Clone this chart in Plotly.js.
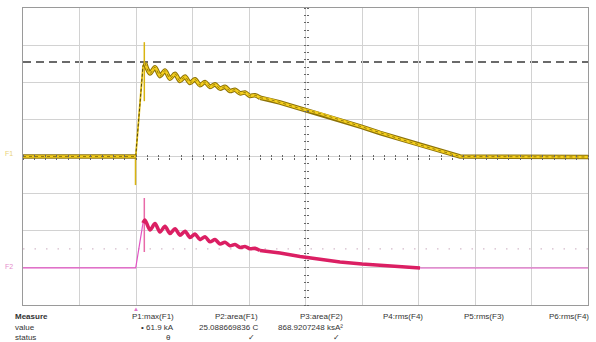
<!DOCTYPE html>
<html>
<head>
<meta charset="utf-8">
<script src="https://cdn.plot.ly/plotly-3.0.1.min.js"></script>
<style>html,body{margin:0;padding:0;background:#fff;}#chart{width:596px;height:342px;}</style>
</head>
<body>
<div id="chart"></div>
<script>
// Time axis in divisions (0..10), amplitude in divisions (-4..4)
const yelX = [0, 1.995, 2.124, 2.159,
  2.248, 2.336, 2.425, 2.513, 2.602, 2.690, 2.779, 2.867, 2.956, 3.044, 3.133, 3.221,
  3.310, 3.398, 3.487, 3.575, 3.664, 3.752, 3.841, 3.929, 4.018, 4.106, 4.195,
  4.372, 4.549, 4.726, 4.903, 5.257, 5.611, 6.0, 6.319, 6.673, 7.027, 7.381, 7.593, 7.735, 10];
const yelY = [0, 0, 2.44, 2.52,
  2.236, 2.405, 2.166, 2.314, 2.096, 2.228, 2.036, 2.152, 1.980, 2.077, 1.921, 2.007,
  1.875, 1.945, 1.829, 1.877, 1.764, 1.799, 1.702, 1.724, 1.632, 1.651, 1.584,
  1.535, 1.455, 1.374, 1.293, 1.158, 0.983, 0.795, 0.633, 0.471, 0.310, 0.148, 0.054, 0, -0.013];
const yelSpikeX = [1.991, 1.991, null, 2.147, 2.147];
const yelSpikeY = [0, -0.77, null, 3.08, 1.49];

const pinkX = [2.124, 2.159,
  2.248, 2.336, 2.425, 2.513, 2.602, 2.690, 2.779, 2.867, 2.956, 3.044, 3.133, 3.221,
  3.310, 3.398, 3.487, 3.575, 3.664, 3.752, 3.841, 3.929, 4.018, 4.106, 4.195,
  4.372, 4.549, 4.903, 5.257, 5.611, 6.0, 6.319, 6.673, 7.027];
const pinkY = [-1.79, -1.71,
  -1.980, -1.806, -2.031, -1.880, -2.074, -1.945, -2.120, -2.012, -2.179, -2.088, -2.238, -2.163,
  -2.298, -2.238, -2.357, -2.308, -2.403, -2.370, -2.449, -2.423, -2.484, -2.475, -2.532,
  -2.559, -2.599, -2.694, -2.774, -2.842, -2.896, -2.936, -2.976, -3.003];
const pinkBaseX = [0, 1.995, 2.124, null, 7.027, 10];
const pinkBaseY = [-3.0, -3.0, -1.79, null, -3.003, -3.003];
const pinkSpikeX = [2.147, 2.147];
const pinkSpikeY = [-1.118, -2.572];

const cursorLevel = [2.545];     // black dashed level
const pinkDotLevel = [-2.49];    // pink dotted level
const triggerPos = [1.995];

const measureLabels = ["P1:max(F1)", "P2:area(F1)", "P3:area(F2)", "P4:rms(F4)", "P5:rms(F3)", "P6:rms(F4)"];
const measureValues = ["• 61.9 kA", "25.088669836 C", "868.9207248 ksA²", "", "", ""];
const measureStatus = ["θ", "✓", "✓", "", "", ""];
const colRight = [0.2708, 0.4195, 0.5699, 0.7115, 0.8549, 1.0053];

const traces = [];
function seg(xs, ys, a, b, line) {
  traces.push({x: xs.slice(a, b), y: ys.slice(a, b), mode: 'lines', line: line, hoverinfo: 'skip'});
}
// pink (F2)
traces.push({x: pinkBaseX, y: pinkBaseY, mode: 'lines', line: {color: '#e254c4', width: 1.2}, hoverinfo: 'skip'});
traces.push({x: pinkSpikeX, y: pinkSpikeY, mode: 'lines', line: {color: '#e86aa8', width: 1.5}, hoverinfo: 'skip'});
seg(pinkX, pinkY, 0, 25, {color: '#db1f63', width: 3.6, shape: 'spline', smoothing: 0.8});
seg(pinkX, pinkY, 24, pinkX.length, {color: '#db1f63', width: 3.4});
// yellow (F1)
traces.push({x: yelSpikeX, y: yelSpikeY, mode: 'lines', line: {color: '#d9b410', width: 1.5}, hoverinfo: 'skip'});
// thin rising edge
seg(yelX, yelY, 1, 4, {color: '#e2bf18', width: 1.8});
seg(yelX, yelY, 1, 4, {color: 'rgba(50,40,0,0.8)', width: 1, dash: '3px,2px'});
const yLayers = [
  {color: '#8c7208', width: 4.6},
  {color: '#f5cf1e', width: 2.6},
  {color: 'rgba(70,55,0,0.55)', width: 1, dash: '3px,3px'}
];
yLayers.forEach(l => {
  seg(yelX, yelY, 0, 2, Object.assign({}, l));
  seg(yelX, yelY, 3, 27, Object.assign({shape: 'spline', smoothing: 0.8}, l));
  seg(yelX, yelY, 26, yelX.length, Object.assign({}, l));
});

const font = {family: 'Liberation Sans, Arial, sans-serif', size: 8, color: '#333'};
const annotations = [];
function ann(text, x, y, anchor, extra) {
  annotations.push(Object.assign({text: text, x: x, y: y, xref: 'paper', yref: 'paper',
    xanchor: anchor, yanchor: 'middle', showarrow: false, font: font}, extra || {}));
}
const rowY = [-0.040, -0.076, -0.110];
ann('<b>Measure</b>', -0.018, rowY[0], 'left');
ann('value', -0.018, rowY[1], 'left');
ann('status', -0.018, rowY[2], 'left');
measureLabels.forEach((t, i) => ann(t, colRight[i], rowY[0], 'right'));
measureValues.forEach((t, i) => { if (t) ann(t, colRight[i], rowY[1], 'right'); });
measureStatus.forEach((t, i) => { if (t) ann(t, colRight[i] - 0.005, rowY[2], 'right'); });
ann('F1', -0.014, 0.51, 'right', {font: {family: font.family, size: 7, color: '#e9d27a'}});
ann('F2', -0.014, 0.13, 'right', {font: {family: font.family, size: 7, color: '#e58ccc'}});
annotations.push({text: '▲', x: triggerPos[0], y: -0.012, xref: 'x', yref: 'paper', xanchor: 'center', yanchor: 'middle',
  showarrow: false, font: {family: font.family, size: 6, color: '#e070c8'}});

const shapes = [
  {type: 'line', xref: 'x', yref: 'y', x0: 0, x1: 10, y0: 0, y1: 0, line: {color: '#333', width: 1, dash: 'dashdot'}, layer: 'below'},
  {type: 'line', xref: 'x', yref: 'y', x0: 5, x1: 5, y0: -4, y1: 4, line: {color: '#b5b5b5', width: 1}, layer: 'below'},
  {type: 'line', xref: 'x', yref: 'y', x0: 0, x1: 10, y0: cursorLevel[0], y1: cursorLevel[0], line: {color: '#3a3a3a', width: 1.4, dash: '8px,5px'}, layer: 'below'},
  {type: 'line', xref: 'x', yref: 'y', x0: 0, x1: 10, y0: pinkDotLevel[0], y1: pinkDotLevel[0], line: {color: '#d4bccb', width: 1.3, dash: '1.5px,10px'}, layer: 'below'}
];

const tickAxis = {range: [0, 10], tickmode: 'linear', tick0: 0, dtick: 0.2, ticklen: 2, tickcolor: '#666',
  showticklabels: false, showgrid: false, zeroline: false, showline: false, fixedrange: true};
const tickAxisY = {range: [-4, 4], tickmode: 'linear', tick0: 0, dtick: 0.2, ticklen: 2, tickcolor: '#666',
  showticklabels: false, showgrid: false, zeroline: false, showline: false, fixedrange: true};

const layout = {
  width: 596, height: 342,
  margin: {l: 23, r: 8, t: 8, b: 37},
  paper_bgcolor: '#fff', plot_bgcolor: '#fff',
  showlegend: false,
  xaxis: {range: [0, 10], dtick: 1, tick0: 0, showticklabels: false, ticks: '', showgrid: true, gridcolor: '#d2d2d2',
    gridwidth: 1, zeroline: false, showline: true, mirror: true, linecolor: '#9a9a9a', linewidth: 1},
  yaxis: {range: [-4, 4], dtick: 1, tick0: 0, showticklabels: false, ticks: '', showgrid: true, gridcolor: '#d2d2d2',
    gridwidth: 1, zeroline: false, showline: true, mirror: true, linecolor: '#9a9a9a', linewidth: 1},
  xaxis2: Object.assign({}, tickAxis, {overlaying: 'x', anchor: 'free', position: 0.5, side: 'bottom', ticks: 'outside'}),
  xaxis3: Object.assign({}, tickAxis, {overlaying: 'x', anchor: 'free', position: 0.5, side: 'top', ticks: 'outside'}),
  yaxis2: Object.assign({}, tickAxisY, {overlaying: 'y', anchor: 'free', position: 0.5, side: 'left', ticks: 'outside'}),
  yaxis3: Object.assign({}, tickAxisY, {overlaying: 'y', anchor: 'free', position: 0.5, side: 'right', ticks: 'outside'}),
  shapes: shapes,
  annotations: annotations
};
// invisible traces so the tick-only centre axes are drawn
traces.unshift({x: [0], y: [0], xaxis: 'x2', yaxis: 'y2', mode: 'markers', marker: {opacity: 0}, hoverinfo: 'skip'});
traces.unshift({x: [0], y: [0], xaxis: 'x3', yaxis: 'y3', mode: 'markers', marker: {opacity: 0}, hoverinfo: 'skip'});

Plotly.newPlot('chart', traces, layout, {staticPlot: true, displayModeBar: false});
</script>
</body>
</html>
